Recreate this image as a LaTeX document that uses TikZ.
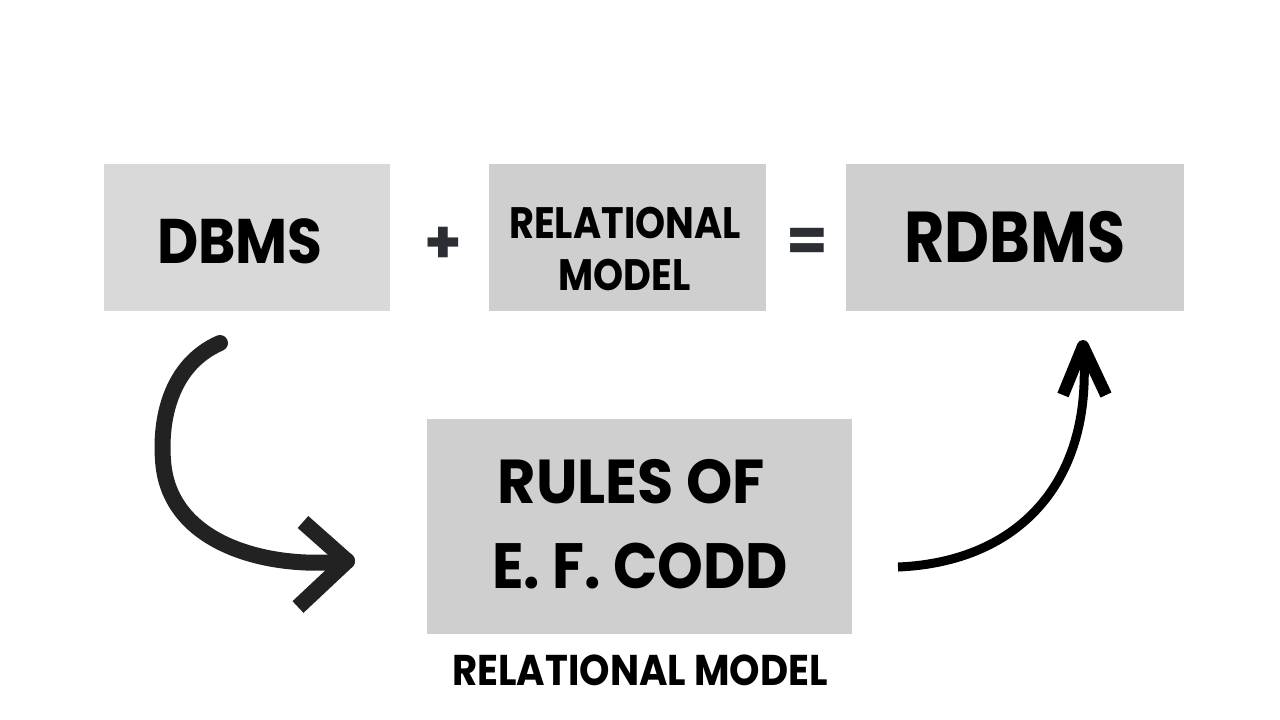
\documentclass[tikz,border=0pt]{standalone}
\usepackage{fontspec}
\setmainfont{Poppins}
\usetikzlibrary{calc}
\definecolor{boxA}{HTML}{D9D9D9}
\definecolor{boxB}{HTML}{CFCFCF}
\definecolor{opc}{HTML}{2B2F33}
\definecolor{arrL}{HTML}{222222}
\tikzset{
  box/.style={fill=#1, draw=none, inner sep=0pt},
  lbl/.style={inner sep=0pt, text=black, font=\bfseries},
}
\newcommand{\fs}[1]{\fontsize{#1}{#1}\selectfont}
\newcommand{\sx}[2]{\scalebox{#1}[1]{#2}}
\begin{document}
\begin{tikzpicture}[x=1pt,y=-1pt]
\useasboundingbox[fill=white] (0,0) rectangle (1280,720);
% boxes
\node[box=boxA, minimum width=286, minimum height=147] (dbms) at (247,237.5) {};
\node[box=boxB, minimum width=277, minimum height=147] (rel) at (627.5,237.5) {};
\node[box=boxB, minimum width=338, minimum height=147] (rdbms) at (1015,237.5) {};
\node[box=boxB, minimum width=425, minimum height=215] (rules) at (639.5,526.5) {};
% texts
\node[lbl] (tdbms) at (240,241) {\fs{63}\sx{0.90}{DBMS}};
\node[lbl] (trel1) at (625,222.5) {\fs{44}\sx{0.87}{RELATIONAL}};
\node[lbl] (trel2) at (624.5,275) {\fs{44}\sx{0.87}{MODEL}};
\node[lbl] (trdbms) at (1015,237) {\fs{72}\sx{0.86}{RDBMS}};
\node[lbl] (trul1) at (631.5,481.5) {\fs{62}\sx{0.95}{RULES OF}};
\node[lbl] (trul2) at (640,565.5) {\fs{64}\sx{0.91}{E. F. CODD}};
\node[lbl] (tbot) at (640,670) {\fs{43}\sx{0.90}{RELATIONAL MODEL}};
\node[lbl, text=opc] (plus) at (443,245) {\fs{60}+};
\node[lbl, text=opc] (eq) at (807.5,244.5) {\fs{60}=};
% left arrow
\coordinate (l0) at (220,343);
\coordinate (l1) at (163,460);
\coordinate (l2) at (347,561);
\draw[arrL, line width=16, line cap=round] (l0) .. controls (170,365) and (160,420) .. (l1)
  .. controls (168,545) and (270,570) .. (l2);
\draw[arrL, line width=16, line cap=butt, line join=round] (303,522) -- (l2) -- (298,607);
% right arrow
\coordinate (r0) at (898,567);
\coordinate (r1) at (1083,346);
\draw[black, line width=9, line cap=butt] (r0) .. controls (1020,562) and (1095,480) .. (r1);
\draw[black, line width=12, line cap=butt, line join=round] (1063,395) -- (r1) -- (1106,395);
\end{tikzpicture}
\end{document}
